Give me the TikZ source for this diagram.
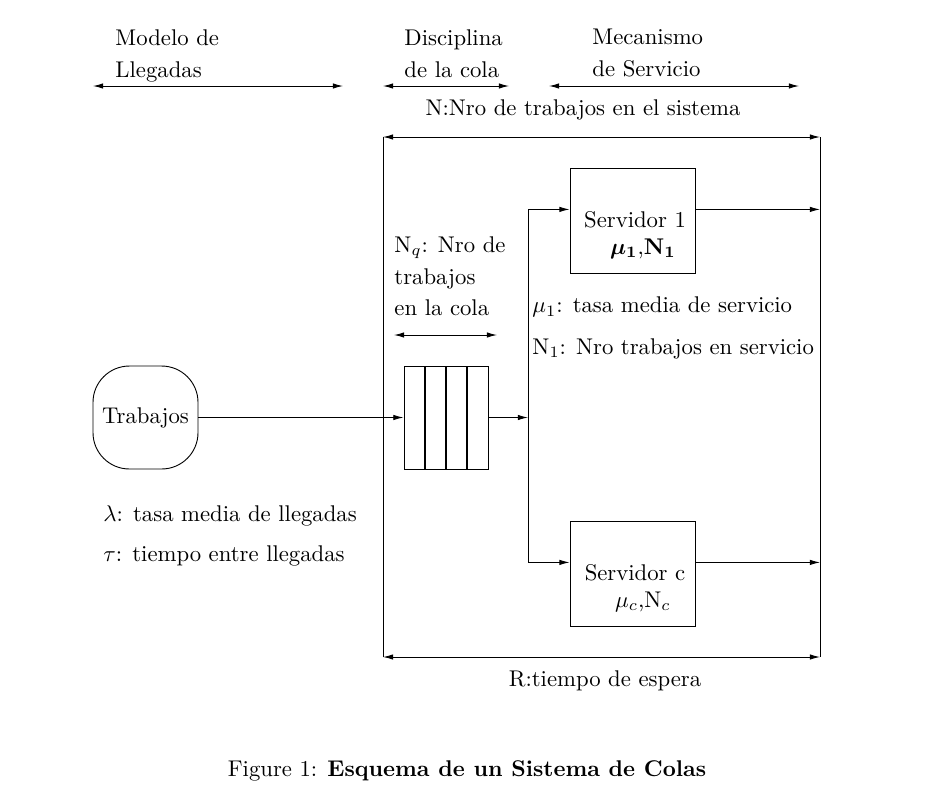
\documentclass[tikz,border=0pt]{standalone}
\usetikzlibrary{positioning,arrows.meta}

\begin{document}
\begin{tikzpicture}[
  x=0.44pt,y=-0.44pt,
  every node/.style={font=\normalsize},
  flecha/.style={-{Latex[length=4.5pt,width=2.4pt]}},
  doble/.style={{Latex[length=4.5pt,width=2.4pt]}-{Latex[length=4.5pt,width=2.4pt]}},
  caja/.style={draw,minimum width=55pt,minimum height=46.2pt,inner sep=0pt},
  nota/.style={anchor=north west,inner sep=0pt,align=left},
  texto/.style={anchor=west,inner sep=0pt}
]
  \useasboundingbox (0,0) rectangle (949,799);

  % encabezados
  \node[nota] (lleg) at (115,29) {Modelo de\\[2pt]Llegadas};
  \node[nota] (disc) at (404,29) {Disciplina\\[2pt]de la cola};
  \node[nota] (meca) at (592,29) {Mecanismo\\[2pt]de Servicio};

  \coordinate (l1) at (93,86);  \coordinate (l2) at (343,86);
  \coordinate (d1) at (383,86); \coordinate (d2) at (509,86);
  \coordinate (m1) at (549,86); \coordinate (m2) at (799,86);
  \draw[doble] (l1) -- (l2);
  \draw[doble] (d1) -- (d2);
  \draw[doble] (m1) -- (m2);

  % el sistema
  \node (nsis) at (583,110) {N:Nro de trabajos en el sistema};
  \coordinate (no) at (383,137); \coordinate (ne) at (820,137);
  \coordinate (so) at (383,657); \coordinate (se) at (820,657);
  \draw[doble] (no) -- (ne);
  \draw[doble] (so) -- (se);
  \draw (no) -- (so);
  \draw (ne) -- (se);
  \node (resp) at (605,681) {R:tiempo de espera};

  % llegadas
  \node[draw,rounded corners=16pt,minimum width=46.2pt,
        minimum height=45.3pt,inner sep=0pt] (trab) at (145.5,417.5) {Trabajos};
  \node[texto] (lam) at (103,516) {$\lambda$: tasa media de llegadas};
  \node[texto] (tau) at (103,556) {$\tau$: tiempo entre llegadas};

  % cola
  \node[nota] (nq) at (394,236) {N$_q$: Nro de\\[2pt]trabajos\\[2pt]en la cola};
  \coordinate (q1) at (394,335); \coordinate (q2) at (497,335);
  \draw[doble] (q1) -- (q2);
  \node[draw,minimum width=37pt,minimum height=45.3pt,inner sep=0pt]
    (cola) at (446,417.5) {};
  \foreach \x in {425,446,467}{
    \draw[semithick] (\x,366) -- (\x,469);
  }

  % servidores
  \node[caja] (s1) at (632.5,220.5) {};
  \node[align=center] (s1t) at (635,235)
    {Servidor 1\\ \hspace*{7pt}{\boldmath$\mu_1$,\textbf{N}$_1$}};
  \node[caja] (sc) at (632.5,573.5) {};
  \node[align=center] (sct) at (635,588)
    {Servidor c\\ \hspace*{7pt}$\mu_c$,N$_c$};

  \node[texto] (mu1) at (532,307) {$\mu_1$: tasa media de servicio};
  \node[texto] (n1) at (532,349) {N$_1$: Nro trabajos en servicio};

  % conexiones
  \coordinate (rep) at (528,417.5);
  \draw[flecha] (trab.east) -- (cola.west);
  \draw[flecha] (cola.east) -- (rep);
  \draw[flecha] (rep) |- (s1.170);
  \draw[flecha] (rep) |- (sc.170);
  \draw[flecha] (s1.10) -- (s1.10 -| ne);
  \draw[flecha] (sc.10) -- (sc.10 -| ne);

  % pie
  \node (cap) at (467,771) {Figure 1: \textbf{Esquema de un Sistema de Colas}};
\end{tikzpicture}
\end{document}
